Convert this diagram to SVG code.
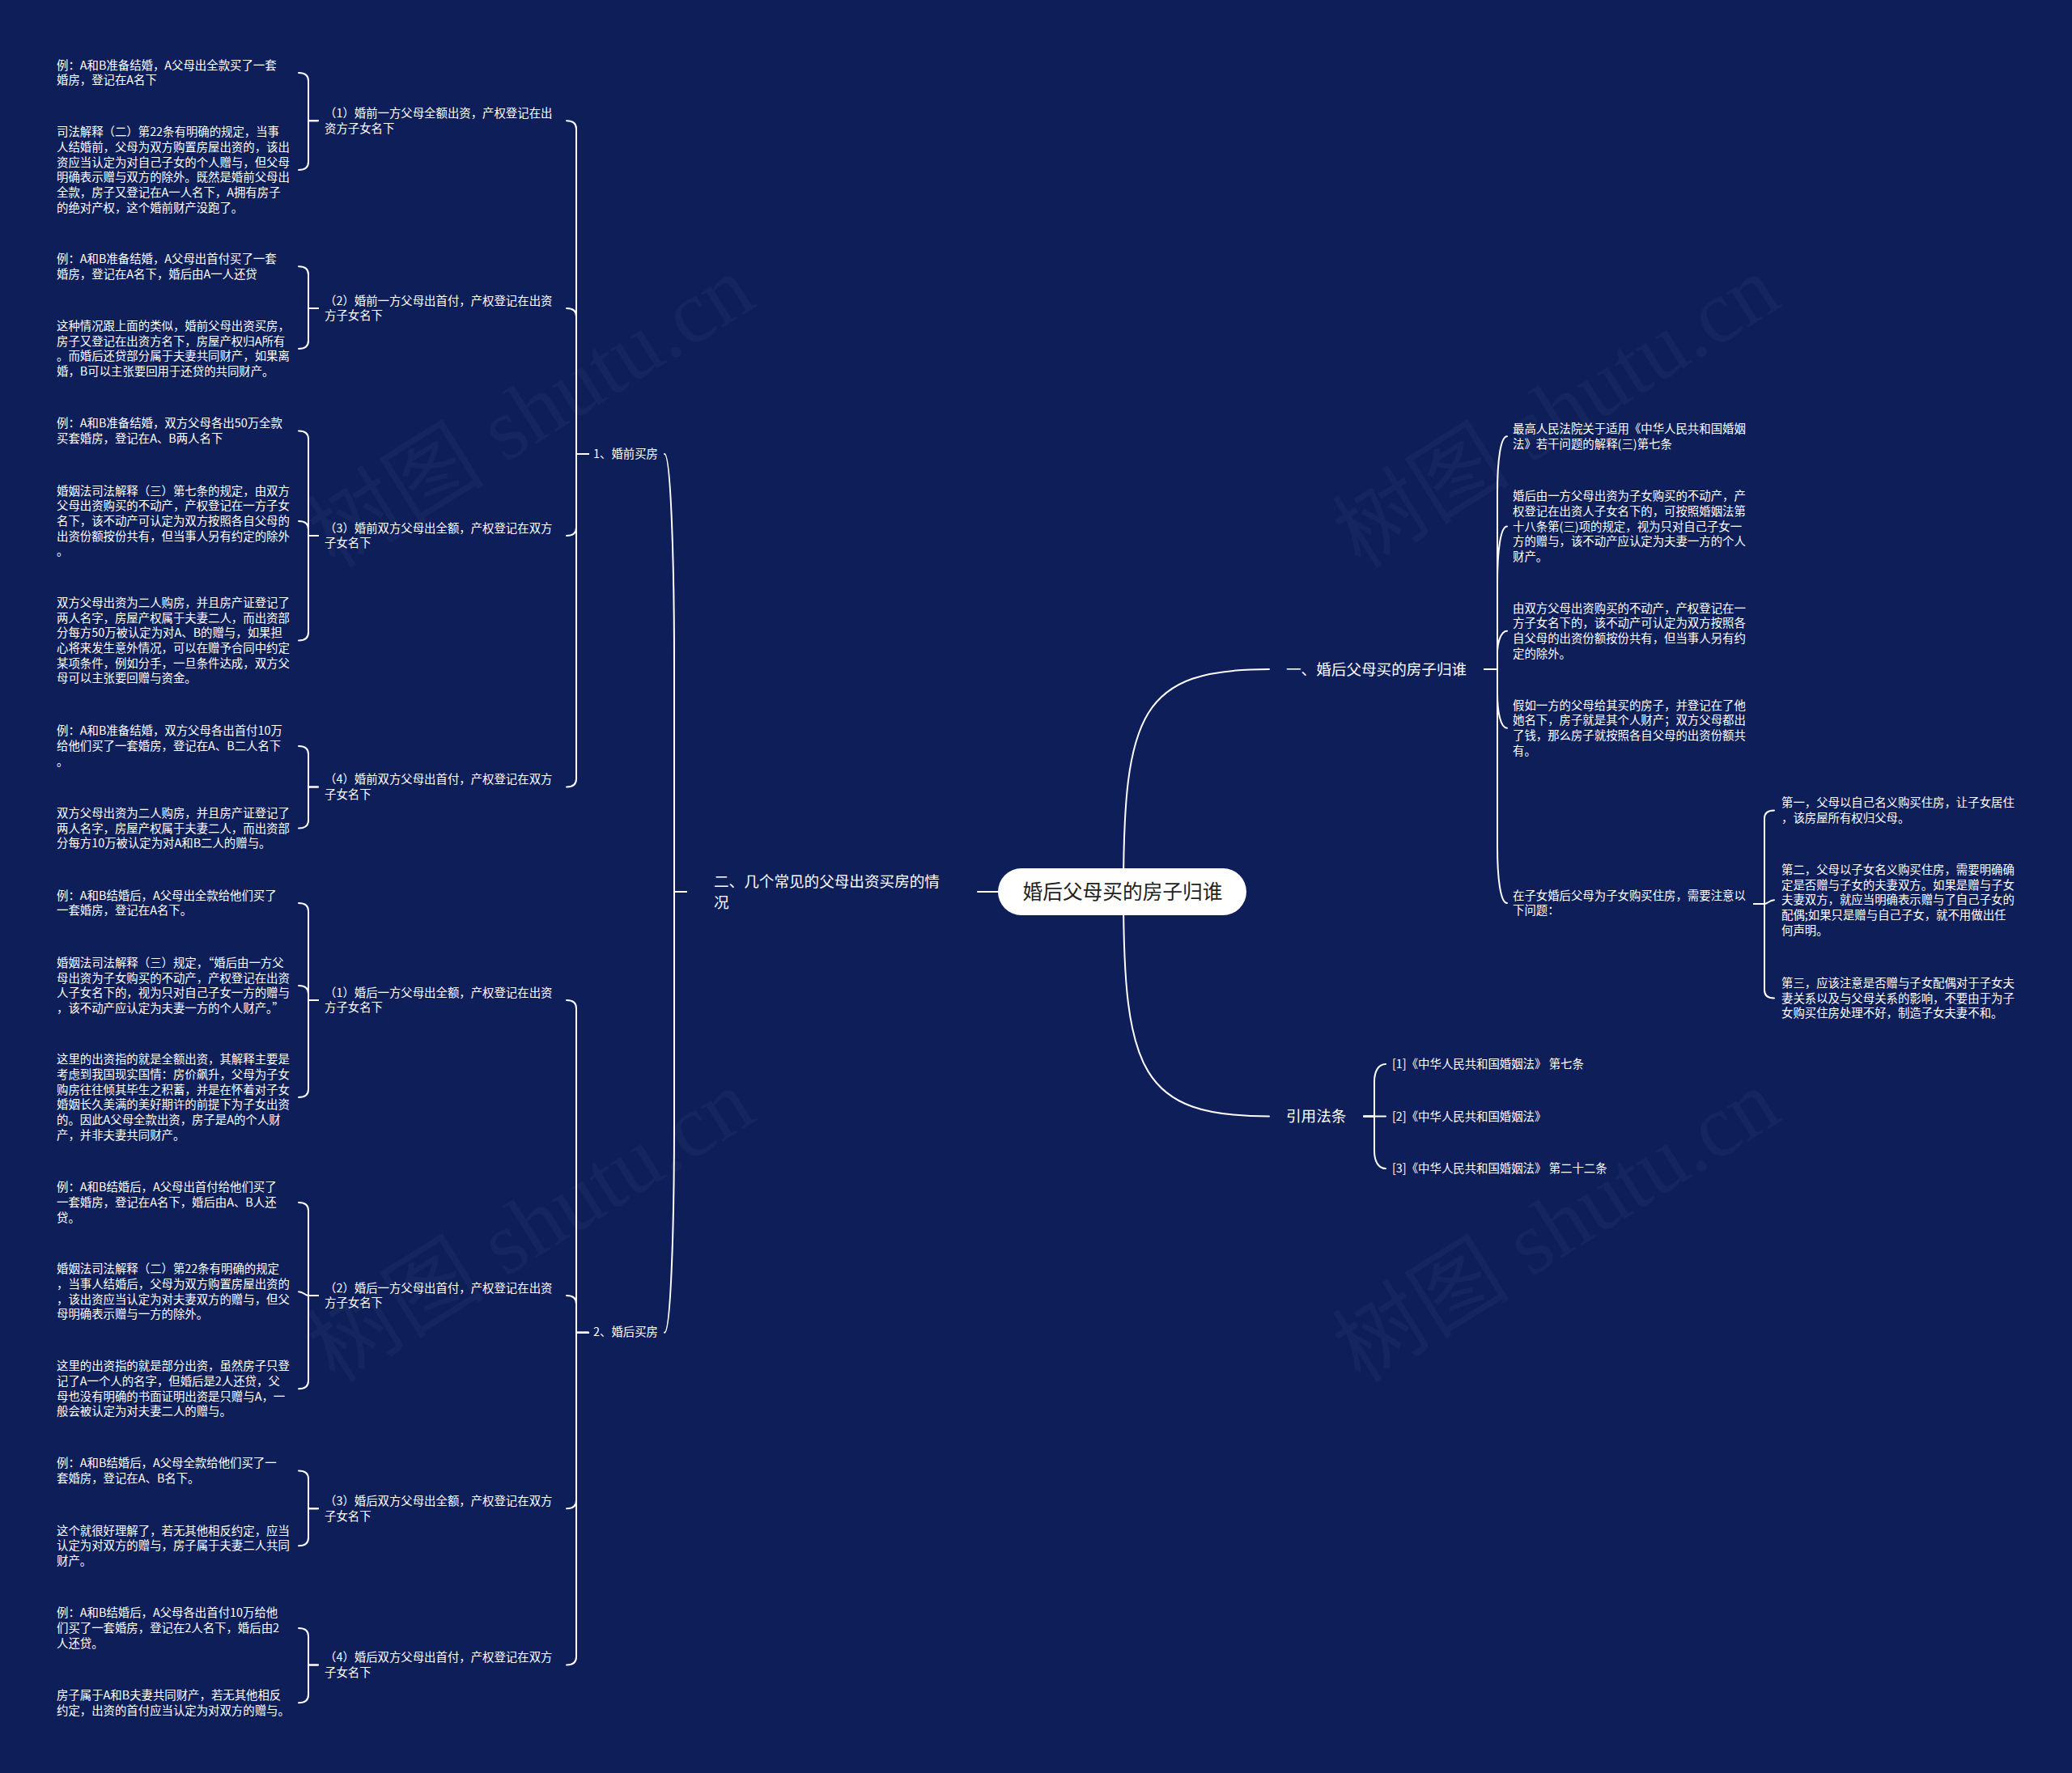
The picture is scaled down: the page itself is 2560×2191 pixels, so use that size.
<svg xmlns="http://www.w3.org/2000/svg" width="2560" height="2191" viewBox="0 0 2560 2191">
<style>
.bg{fill:#0d1e59}
.t{font-family:"Noto Sans CJK SC","Microsoft YaHei",sans-serif;fill:#ffffff;dominant-baseline:central;transform:translateY(-2px)}
.s{font-size:14.4px}
.m{font-size:18.6px}
.r{font-size:24.7px;fill:#222222;text-anchor:middle}
.wm{font-family:"Liberation Serif","Noto Sans CJK SC",serif;font-size:110px;fill:#ffffff;fill-opacity:0.035;text-anchor:middle;dominant-baseline:central}
.c{fill:none;stroke:#ffffff;stroke-width:2;stroke-linecap:round}
</style>
<rect class="bg" x="0" y="0" width="2560" height="2191"/>
<g id="watermarks">
<text class="wm" transform="translate(656,509) rotate(-32)">树图 shutu.cn</text>
<text class="wm" transform="translate(656,1515) rotate(-32)">树图 shutu.cn</text>
<text class="wm" transform="translate(1923,509) rotate(-32)">树图 shutu.cn</text>
<text class="wm" transform="translate(1923,1515) rotate(-32)">树图 shutu.cn</text>
</g>
<g id="connectors">
<path class="c" d="M1388 1102 C1388 880 1410 827 1568 827"/>
<path class="c" d="M1388 1102 C1388 1325 1410 1379.5 1568 1379.5"/>
<path class="c" d="M1208 1102 H1388"/>
<path class="c" d="M848 1102 H833 V820 C833 700 829 561 821 561"/>
<path class="c" d="M848 1102 H833 V1388 C833 1508 829 1646.8 821 1646.8"/>
<path class="c" d="M727 561 H712 V159.3 C712 152.8 708 149.3 700 149.3"/>
<path class="c" d="M727 561 H712 V391 C712 384.5 708 381 700 381"/>
<path class="c" d="M727 561 H712 V652 C712 658.5 708 662 700 662"/>
<path class="c" d="M727 561 H712 V962.6 C712 969.1 708 972.6 700 972.6"/>
<path class="c" d="M727 1646.8 H712 V1246 C712 1239.5 708 1236 700 1236"/>
<path class="c" d="M727 1646.8 H712 V1611 C712 1604.5 708 1601 700 1601"/>
<path class="c" d="M727 1646.8 H712 V1854.3 C712 1860.8 708 1864.3 700 1864.3"/>
<path class="c" d="M727 1646.8 H712 V2047.6 C712 2054.1 708 2057.6 700 2057.6"/>
<path class="c" d="M393 149.3 H381 V100 C381 93.5 377 90 369 90"/>
<path class="c" d="M393 149.3 H381 V199.9 C381 206.4 377 209.9 369 209.9"/>
<path class="c" d="M393 381 H381 V339.3 C381 332.8 377 329.3 369 329.3"/>
<path class="c" d="M393 381 H381 V421 C381 427.5 377 431 369 431"/>
<path class="c" d="M393 662 H381 V542.6 C381 536.1 377 532.6 369 532.6"/>
<path class="c" d="M393 662 H381 V654 C381 647.5 377 644 369 644"/>
<path class="c" d="M393 662 H381 V781.6 C381 788.1 377 791.6 369 791.6"/>
<path class="c" d="M393 972.6 H381 V932 C381 925.5 377 922 369 922"/>
<path class="c" d="M393 972.6 H381 V1013.6 C381 1020.1 377 1023.6 369 1023.6"/>
<path class="c" d="M393 1236 H381 V1126 C381 1119.5 377 1116 369 1116"/>
<path class="c" d="M393 1236 H381 V1228 C381 1221.5 377 1218 369 1218"/>
<path class="c" d="M393 1236 H381 V1346 C381 1352.5 377 1356 369 1356"/>
<path class="c" d="M393 1601 H381 V1496 C381 1489.5 377 1486 369 1486"/>
<path class="c" d="M393 1601 H381 C377 1601 375 1596.3 369 1596.3"/>
<path class="c" d="M393 1601 H381 V1706.3 C381 1712.8 377 1716.3 369 1716.3"/>
<path class="c" d="M393 1864.3 H381 V1827.6 C381 1821.1 377 1817.6 369 1817.6"/>
<path class="c" d="M393 1864.3 H381 V1900.3 C381 1906.8 377 1910.3 369 1910.3"/>
<path class="c" d="M393 2057.6 H381 V2022 C381 2015.5 377 2012 369 2012"/>
<path class="c" d="M393 2057.6 H381 V2094.3 C381 2100.8 377 2104.3 369 2104.3"/>
<path class="c" d="M1834 827 H1850 V609.3 C1850 569 1854 539.3 1862 539.3"/>
<path class="c" d="M1834 827 H1850 V720.6 C1850 680 1854 650.6 1862 650.6"/>
<path class="c" d="M1834 827 H1850 V807.7 C1850 795 1854 779.7 1862 779.7"/>
<path class="c" d="M1834 827 H1850 V856 C1850 880 1854 899.7 1862 899.7"/>
<path class="c" d="M1834 827 H1850 V1046 C1850 1086 1854 1116 1862 1116"/>
<path class="c" d="M2167 1117 H2180 V1011.6 C2180 1005.1 2184 1001.6 2192 1001.6"/>
<path class="c" d="M2167 1117 H2180 C2184 1117 2186 1112.3 2192 1112.3"/>
<path class="c" d="M2167 1117 H2180 V1223.6 C2180 1230.1 2184 1233.6 2192 1233.6"/>
<path class="c" d="M1685 1379.5 H1698 V1337 C1698 1324 1703 1315 1712 1315"/>
<path class="c" d="M1685 1379.5 H1712"/>
<path class="c" d="M1685 1379.5 H1698 V1422 C1698 1435 1703 1444 1712 1444"/>
</g>
<g id="root">
<rect x="1233" y="1073" width="307" height="58" rx="29" fill="#ffffff"/>
<text class="t r" x="1387" y="1102">婚后父母买的房子归谁</text>
</g>
<g id="n-er">
<text class="t m"><tspan x="882" y="1089">二、几个常见的父母出资买房的情</tspan><tspan x="882" y="1115">况</tspan></text>
</g>
<g id="n-yi">
<text class="t m" x="1589" y="827">一、婚后父母买的房子归谁</text>
</g>
<g id="n-cite">
<text class="t m" x="1589" y="1379.5">引用法条</text>
</g>
<g id="n-pre">
<text class="t s" x="733" y="561">1、婚前买房</text>
</g>
<g id="n-post">
<text class="t s" x="733" y="1646.8">2、婚后买房</text>
</g>
<g id="n-pre1">
<text class="t s"><tspan x="401" y="140">（1）婚前一方父母全额出资，产权登记在出</tspan><tspan x="401" y="158.7">资方子女名下</tspan></text>
</g>
<g id="n-pre2">
<text class="t s"><tspan x="401" y="371.7">（2）婚前一方父母出首付，产权登记在出资</tspan><tspan x="401" y="390.4">方子女名下</tspan></text>
</g>
<g id="n-pre3">
<text class="t s"><tspan x="401" y="652.7">（3）婚前双方父母出全额，产权登记在双方</tspan><tspan x="401" y="671.4">子女名下</tspan></text>
</g>
<g id="n-pre4">
<text class="t s"><tspan x="401" y="963.3">（4）婚前双方父母出首付，产权登记在双方</tspan><tspan x="401" y="982">子女名下</tspan></text>
</g>
<g id="n-post1">
<text class="t s"><tspan x="401" y="1226.7">（1）婚后一方父母出全额，产权登记在出资</tspan><tspan x="401" y="1245.4">方子女名下</tspan></text>
</g>
<g id="n-post2">
<text class="t s"><tspan x="401" y="1591.7">（2）婚后一方父母出首付，产权登记在出资</tspan><tspan x="401" y="1610.4">方子女名下</tspan></text>
</g>
<g id="n-post3">
<text class="t s"><tspan x="401" y="1855">（3）婚后双方父母出全额，产权登记在双方</tspan><tspan x="401" y="1873.7">子女名下</tspan></text>
</g>
<g id="n-post4">
<text class="t s"><tspan x="401" y="2048.3">（4）婚后双方父母出首付，产权登记在双方</tspan><tspan x="401" y="2067">子女名下</tspan></text>
</g>
<g id="leaf-a">
<text class="t s"><tspan x="70" y="80.7">例：A和B准备结婚，A父母出全款买了一套</tspan><tspan x="70" y="99.4">婚房，登记在A名下</tspan></text>
</g>
<g id="leaf-b">
<text class="t s"><tspan x="70" y="163.3">司法解释（二）第22条有明确的规定，当事</tspan><tspan x="70" y="182">人结婚前，父母为双方购置房屋出资的，该出</tspan><tspan x="70" y="200.6">资应当认定为对自己子女的个人赠与，但父母</tspan><tspan x="70" y="219.3">明确表示赠与双方的除外。既然是婚前父母出</tspan><tspan x="70" y="237.9">全款，房子又登记在A一人名下，A拥有房子</tspan><tspan x="70" y="256.6">的绝对产权，这个婚前财产没跑了。</tspan></text>
</g>
<g id="leaf-c">
<text class="t s"><tspan x="70" y="320">例：A和B准备结婚，A父母出首付买了一套</tspan><tspan x="70" y="338.7">婚房，登记在A名下，婚后由A一人还贷</tspan></text>
</g>
<g id="leaf-d">
<text class="t s"><tspan x="70" y="403">这种情况跟上面的类似，婚前父母出资买房，</tspan><tspan x="70" y="421.7">房子又登记在出资方名下，房屋产权归A所有</tspan><tspan x="70" y="440.3">。而婚后还贷部分属于夫妻共同财产，如果离</tspan><tspan x="70" y="459">婚，B可以主张要回用于还贷的共同财产。</tspan></text>
</g>
<g id="leaf-e">
<text class="t s"><tspan x="70" y="523.3">例：A和B准备结婚，双方父母各出50万全款</tspan><tspan x="70" y="542">买套婚房，登记在A、B两人名下</tspan></text>
</g>
<g id="leaf-f">
<text class="t s"><tspan x="70" y="606.7">婚姻法司法解释（三）第七条的规定，由双方</tspan><tspan x="70" y="625.4">父母出资购买的不动产，产权登记在一方子女</tspan><tspan x="70" y="644">名下，该不动产可认定为双方按照各自父母的</tspan><tspan x="70" y="662.7">出资份额按份共有，但当事人另有约定的除外</tspan><tspan x="70" y="681.3">。</tspan></text>
</g>
<g id="leaf-g">
<text class="t s"><tspan x="70" y="745">双方父母出资为二人购房，并且房产证登记了</tspan><tspan x="70" y="763.7">两人名字，房屋产权属于夫妻二人，而出资部</tspan><tspan x="70" y="782.3">分每方50万被认定为对A、B的赠与，如果担</tspan><tspan x="70" y="801">心将来发生意外情况，可以在赠予合同中约定</tspan><tspan x="70" y="819.6">某项条件，例如分手，一旦条件达成，双方父</tspan><tspan x="70" y="838.3">母可以主张要回赠与资金。</tspan></text>
</g>
<g id="leaf-h">
<text class="t s"><tspan x="70" y="903.3">例：A和B准备结婚，双方父母各出首付10万</tspan><tspan x="70" y="922">给他们买了一套婚房，登记在A、B二人名下</tspan><tspan x="70" y="940.6">。</tspan></text>
</g>
<g id="leaf-i">
<text class="t s"><tspan x="70" y="1005">双方父母出资为二人购房，并且房产证登记了</tspan><tspan x="70" y="1023.7">两人名字，房屋产权属于夫妻二人，而出资部</tspan><tspan x="70" y="1042.3">分每方10万被认定为对A和B二人的赠与。</tspan></text>
</g>
<g id="leaf-j">
<text class="t s"><tspan x="70" y="1106.7">例：A和B结婚后，A父母出全款给他们买了</tspan><tspan x="70" y="1125.4">一套婚房，登记在A名下。</tspan></text>
</g>
<g id="leaf-k">
<text class="t s"><tspan x="70" y="1190">婚姻法司法解释（三）规定，“婚后由一方父</tspan><tspan x="70" y="1208.7">母出资为子女购买的不动产，产权登记在出资</tspan><tspan x="70" y="1227.3">人子女名下的，视为只对自己子女一方的赠与</tspan><tspan x="70" y="1246">，该不动产应认定为夫妻一方的个人财产。”</tspan></text>
</g>
<g id="leaf-l">
<text class="t s"><tspan x="70" y="1309.3">这里的出资指的就是全额出资，其解释主要是</tspan><tspan x="70" y="1328">考虑到我国现实国情：房价飙升，父母为子女</tspan><tspan x="70" y="1346.6">购房往往倾其毕生之积蓄，并是在怀着对子女</tspan><tspan x="70" y="1365.3">婚姻长久美满的美好期许的前提下为子女出资</tspan><tspan x="70" y="1383.9">的。因此A父母全款出资，房子是A的个人财</tspan><tspan x="70" y="1402.6">产，并非夫妻共同财产。</tspan></text>
</g>
<g id="leaf-m">
<text class="t s"><tspan x="70" y="1467.3">例：A和B结婚后，A父母出首付给他们买了</tspan><tspan x="70" y="1486">一套婚房，登记在A名下，婚后由A、B人还</tspan><tspan x="70" y="1504.6">贷。</tspan></text>
</g>
<g id="leaf-n">
<text class="t s"><tspan x="70" y="1568.3">婚姻法司法解释（二）第22条有明确的规定</tspan><tspan x="70" y="1587">，当事人结婚后，父母为双方购置房屋出资的</tspan><tspan x="70" y="1605.6">，该出资应当认定为对夫妻双方的赠与，但父</tspan><tspan x="70" y="1624.3">母明确表示赠与一方的除外。</tspan></text>
</g>
<g id="leaf-o">
<text class="t s"><tspan x="70" y="1688.3">这里的出资指的就是部分出资，虽然房子只登</tspan><tspan x="70" y="1707">记了A一个人的名字，但婚后是2人还贷，父</tspan><tspan x="70" y="1725.6">母也没有明确的书面证明出资是只赠与A，一</tspan><tspan x="70" y="1744.3">般会被认定为对夫妻二人的赠与。</tspan></text>
</g>
<g id="leaf-p">
<text class="t s"><tspan x="70" y="1808.3">例：A和B结婚后，A父母全款给他们买了一</tspan><tspan x="70" y="1827">套婚房，登记在A、B名下。</tspan></text>
</g>
<g id="leaf-q">
<text class="t s"><tspan x="70" y="1891.7">这个就很好理解了，若无其他相反约定，应当</tspan><tspan x="70" y="1910.4">认定为对双方的赠与，房子属于夫妻二人共同</tspan><tspan x="70" y="1929">财产。</tspan></text>
</g>
<g id="leaf-r">
<text class="t s"><tspan x="70" y="1993.3">例：A和B结婚后，A父母各出首付10万给他</tspan><tspan x="70" y="2012">们买了一套婚房，登记在2人名下，婚后由2</tspan><tspan x="70" y="2030.6">人还贷。</tspan></text>
</g>
<g id="leaf-s">
<text class="t s"><tspan x="70" y="2095">房子属于A和B夫妻共同财产，若无其他相反</tspan><tspan x="70" y="2113.7">约定，出资的首付应当认定为对双方的赠与。</tspan></text>
</g>
<g id="c1">
<text class="t s"><tspan x="1869" y="530">最高人民法院关于适用《中华人民共和国婚姻</tspan><tspan x="1869" y="548.7">法》若干问题的解释(三)第七条</tspan></text>
</g>
<g id="c2">
<text class="t s"><tspan x="1869" y="613.3">婚后由一方父母出资为子女购买的不动产，产</tspan><tspan x="1869" y="632">权登记在出资人子女名下的，可按照婚姻法第</tspan><tspan x="1869" y="650.6">十八条第(三)项的规定，视为只对自己子女一</tspan><tspan x="1869" y="669.3">方的赠与，该不动产应认定为夫妻一方的个人</tspan><tspan x="1869" y="687.9">财产。</tspan></text>
</g>
<g id="c3">
<text class="t s"><tspan x="1869" y="751.7">由双方父母出资购买的不动产，产权登记在一</tspan><tspan x="1869" y="770.4">方子女名下的，该不动产可认定为双方按照各</tspan><tspan x="1869" y="789">自父母的出资份额按份共有，但当事人另有约</tspan><tspan x="1869" y="807.7">定的除外。</tspan></text>
</g>
<g id="c4">
<text class="t s"><tspan x="1869" y="871.7">假如一方的父母给其买的房子，并登记在了他</tspan><tspan x="1869" y="890.4">她名下，房子就是其个人财产；双方父母都出</tspan><tspan x="1869" y="909">了钱，那么房子就按照各自父母的出资份额共</tspan><tspan x="1869" y="927.7">有。</tspan></text>
</g>
<g id="c5">
<text class="t s"><tspan x="1869" y="1106.7">在子女婚后父母为子女购买住房，需要注意以</tspan><tspan x="1869" y="1125.4">下问题：</tspan></text>
</g>
<g id="d1">
<text class="t s"><tspan x="2201" y="992.3">第一，父母以自己名义购买住房，让子女居住</tspan><tspan x="2201" y="1011">，该房屋所有权归父母。</tspan></text>
</g>
<g id="d2">
<text class="t s"><tspan x="2201" y="1075">第二，父母以子女名义购买住房，需要明确确</tspan><tspan x="2201" y="1093.7">定是否赠与子女的夫妻双方。如果是赠与子女</tspan><tspan x="2201" y="1112.3">夫妻双方，就应当明确表示赠与了自己子女的</tspan><tspan x="2201" y="1131">配偶;如果只是赠与自己子女，就不用做出任</tspan><tspan x="2201" y="1149.6">何声明。</tspan></text>
</g>
<g id="d3">
<text class="t s"><tspan x="2201" y="1215">第三，应该注意是否赠与子女配偶对于子女夫</tspan><tspan x="2201" y="1233.7">妻关系以及与父母关系的影响，不要由于为子</tspan><tspan x="2201" y="1252.3">女购买住房处理不好，制造子女夫妻不和。</tspan></text>
</g>
<g id="ref1">
<text class="t s" x="1720" y="1315">[1]《中华人民共和国婚姻法》 第七条</text>
</g>
<g id="ref2">
<text class="t s" x="1720" y="1380">[2]《中华人民共和国婚姻法》</text>
</g>
<g id="ref3">
<text class="t s" x="1720" y="1444">[3]《中华人民共和国婚姻法》 第二十二条</text>
</g>
</svg>
